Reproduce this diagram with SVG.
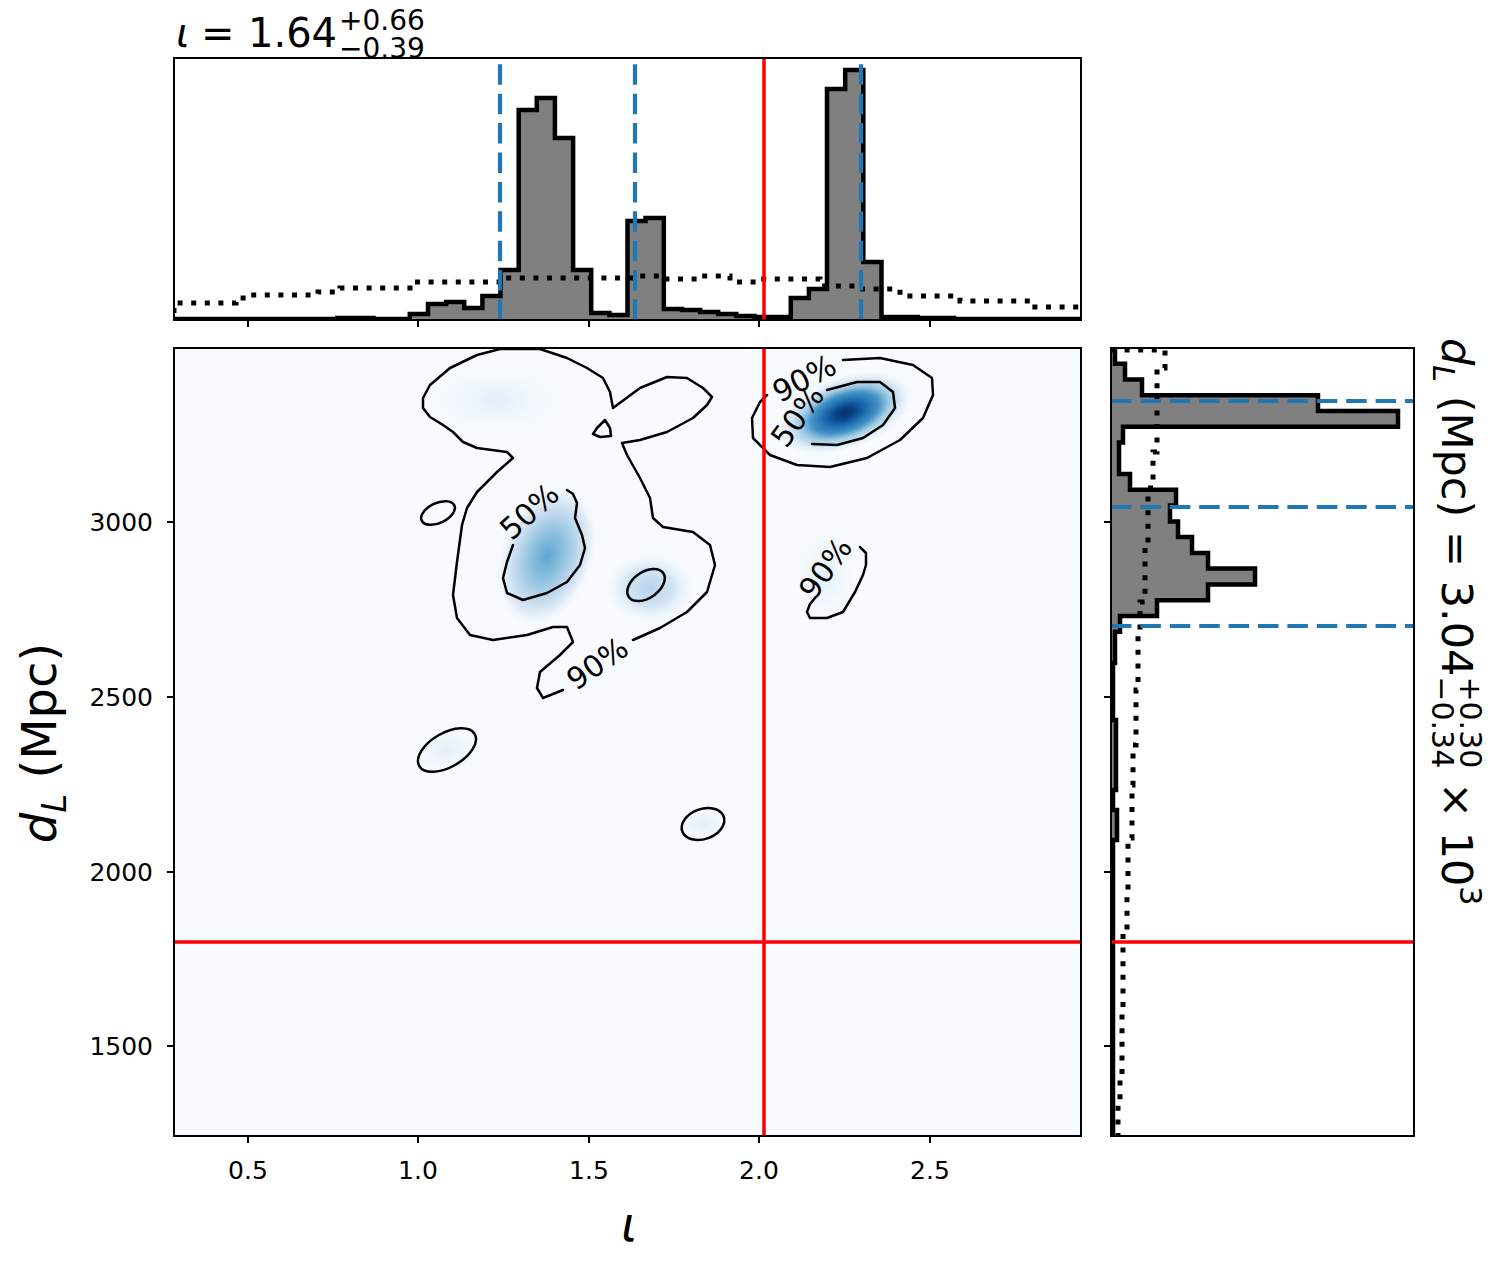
<svg xmlns="http://www.w3.org/2000/svg" width="1502" height="1263" viewBox="0 0 1502 1263">
<style>
text{font-family:'DejaVu Sans','Liberation Sans',sans-serif;fill:#000}
.frame{fill:none;stroke:#000;stroke-width:2}
.tick{stroke:#000;stroke-width:2}
.tl{font-size:25px}
.hist{fill:#808080;stroke:#000;stroke-width:4.5;stroke-linejoin:miter}
.prior{fill:none;stroke:#000;stroke-width:5;stroke-dasharray:5 8.6}
.q{fill:none;stroke:#1f77b4;stroke-width:4.2;stroke-dasharray:20.5 8.9}
.truth{fill:none;stroke:#ff0000;stroke-width:3.5}
.ct{fill:none;stroke:#000;stroke-width:2.5;stroke-linejoin:round;stroke-linecap:round}
.cl{font-size:30px;text-anchor:middle}
</style>
<defs>
<clipPath id="cTop"><rect x="174" y="58" width="907" height="262"/></clipPath>
<clipPath id="cMain"><rect x="174" y="348" width="907" height="788"/></clipPath>
<clipPath id="cRight"><rect x="1111" y="348" width="303" height="788"/></clipPath>
<radialGradient id="gA">
<stop offset="0" stop-color="#08306b"/>
<stop offset="0.15" stop-color="#08468a"/>
<stop offset="0.32" stop-color="#2171b5"/>
<stop offset="0.47" stop-color="#4292c6"/>
<stop offset="0.62" stop-color="#9ecae1"/>
<stop offset="0.8" stop-color="#deebf7"/>
<stop offset="1" stop-color="#f7fbff" stop-opacity="0"/>
</radialGradient>
<radialGradient id="gB">
<stop offset="0" stop-color="#5fa5d1"/>
<stop offset="0.3" stop-color="#89bfdd"/>
<stop offset="0.55" stop-color="#b7d4ea"/>
<stop offset="0.8" stop-color="#e1ecf7"/>
<stop offset="1" stop-color="#f7fbff" stop-opacity="0"/>
</radialGradient>
<radialGradient id="gC">
<stop offset="0" stop-color="#b5d2ea"/>
<stop offset="0.5" stop-color="#d4e5f3"/>
<stop offset="1" stop-color="#f7fbff" stop-opacity="0"/>
</radialGradient>
<radialGradient id="gD">
<stop offset="0" stop-color="#e3edf8"/>
<stop offset="1" stop-color="#f7fbff" stop-opacity="0"/>
</radialGradient>
</defs>

<rect width="1502" height="1263" fill="#fff"/>

<!-- title of top panel -->
<g id="title">
<text x="176" y="47" font-size="40" font-style="italic">ι</text>
<text x="201" y="47" font-size="40">=</text>
<text x="248" y="47" font-size="40">1.64</text>
<text x="339" y="30" font-size="28">+0.66</text>
<text x="339" y="58" font-size="28">−0.39</text>
</g>

<!-- top marginal histogram -->
<g id="top-panel">
<rect x="174" y="58" width="907" height="262" fill="#fff"/>
<g clip-path="url(#cTop)">
<path class="hist" d="M174,319 H337.3 V318 H373.5 V319 H409.8 V314 H428 V304 H446.1 V302 H464.2 V308 H482.4 V296 H500.5 V270 H518.7 V110 H536.8 V98 H554.9 V138 H573.1 V270 H591.2 V313 H609.4 V315 H627.5 V221 H645.6 V218 H663.8 V309 H681.9 V310 H700.1 V312 H718.2 V314 H736.3 V316 H754.5 V317 H790.8 V298 H808.9 V289 H827 V89 H845.2 V70 H863.3 V262 H881.5 V317 H917.7 V318 H954 V319 H1081 V324 H174 Z"/>
<path class="prior" d="M174,313 V303 H236 V298 H247 V295 H318 V292 H340 V288 H410 V282 H500 V278 H640 V276 H660 V279 H700 V276 H730 V282 H760 V279 H820 V286 H860 V289 H900 V296 H960 V301 H1030 V307 H1081"/>
<path class="q" d="M500,320 V58 M635,320 V58 M861,320 V58"/>
<path class="truth" d="M764,58 V320"/>
</g>
<rect class="frame" x="174" y="58" width="907" height="262"/>
<path class="tick" d="M248,320 v7 M418,320 v7 M589,320 v7 M759,320 v7 M930,320 v7"/>
</g>

<!-- main 2D panel -->
<g id="main-panel">
<rect x="174" y="348" width="907" height="788" fill="#f7fbff"/>
<g clip-path="url(#cMain)">
<ellipse cx="495" cy="400" rx="85" ry="42" fill="url(#gD)"/>
<ellipse cx="825" cy="575" rx="40" ry="55" fill="url(#gD)"/>
<ellipse cx="447" cy="750" rx="45" ry="30" fill="url(#gD)"/>
<ellipse cx="703" cy="824" rx="35" ry="25" fill="url(#gD)"/>
<ellipse cx="650" cy="588" rx="48" ry="38" fill="url(#gC)"/>
<ellipse cx="547" cy="556" rx="48" ry="75" fill="url(#gB)" transform="rotate(20 547 556)"/>
<ellipse cx="845" cy="413" rx="74" ry="38" fill="url(#gA)" transform="rotate(-20 845 413)"/>
</g>

<g id="contours">
<polyline class="ct" points="633,640 660,628 687,612 707,592 715,565 710,545 693,532 663,527 653,518 650,498 640,478 627,455 622,443 640,440 667,432 693,418 707,405 712,397 703,388 687,378 667,377 640,388 613,408 610,392 603,378 587,368 567,358 540,349 500,349 477,355 450,368 430,385 423,398 423,408 430,417 443,425 453,432 463,442 477,448 507,452 513,458 497,472 477,492 467,508 462,525 457,562 453,595 457,618 470,635 493,640 527,635 553,627 567,627 573,642 560,655 540,672 537,688 543,698 563,690"/>
<polyline class="ct" points="567,490 573,494 577,503 575,518 582,535 585,548 580,565 567,582 547,593 523,600 507,593 503,578 507,562 513,545"/>
<polygon class="ct" points="605,420 610,428 611,436 600,437 593,434 597,428"/>
<ellipse class="ct" cx="438" cy="513" rx="18" ry="10" transform="rotate(-25 438 513)"/>
<ellipse class="ct" cx="646" cy="585" rx="21" ry="13" transform="rotate(-35 646 585)"/>
<polyline class="ct" points="843,360 880,358 913,365 932,378 933,395 923,418 900,440 867,458 830,467 797,465 770,455 753,438 752,418 760,402 767,395"/>
<polyline class="ct" points="827,390 857,382 880,382 893,392 895,408 883,425 863,438 837,445 812,444"/>
<polyline class="ct" points="860,547 866,553 866,565 863,575 855,592 843,612 827,618 810,618 807,612 810,604 815,598"/>
<ellipse class="ct" cx="447" cy="750" rx="32" ry="17" transform="rotate(-30 447 750)"/>
<ellipse class="ct" cx="703" cy="824" rx="22" ry="15" transform="rotate(-20 703 824)"/>
</g>

<g id="contour-labels">
<text class="cl" transform="translate(597,663) rotate(-35)" dy="11">90%</text>
<text class="cl" transform="translate(529,511) rotate(-42)" dy="11">50%</text>
<text class="cl" transform="translate(804,378) rotate(-28)" dy="11">90%</text>
<text class="cl" transform="translate(797,416) rotate(-54)" dy="11">50%</text>
<text class="cl" transform="translate(825,568) rotate(-54)" dy="11">90%</text>
</g>

<g clip-path="url(#cMain)">
<path class="truth" d="M764,348 V1136 M174,942 H1081"/>
</g>
<rect class="frame" x="174" y="348" width="907" height="788"/>
<path class="tick" d="M248,1136 v7 M418,1136 v7 M589,1136 v7 M759,1136 v7 M930,1136 v7 M174,522 h-7 M174,697 h-7 M174,872 h-7 M174,1046 h-7"/>
<g id="x-ticklabels" class="tl" text-anchor="middle">
<text x="248" y="1179">0.5</text>
<text x="418" y="1179">1.0</text>
<text x="589" y="1179">1.5</text>
<text x="759" y="1179">2.0</text>
<text x="930" y="1179">2.5</text>
</g>
<g id="y-ticklabels" class="tl" text-anchor="end">
<text x="153" y="531">3000</text>
<text x="153" y="706">2500</text>
<text x="153" y="881">2000</text>
<text x="153" y="1055">1500</text>
</g>
<text id="x-label" x="629" y="1241" font-size="48" font-style="italic" text-anchor="middle">ι</text>
<g id="y-label" transform="translate(56,743) rotate(-90)">
<text font-size="48" text-anchor="middle"><tspan font-style="italic">d</tspan><tspan font-style="italic" font-size="34" dy="10">L</tspan><tspan dy="-10"> (Mpc)</tspan></text>
</g>
</g>

<!-- right marginal histogram -->
<g id="right-panel">
<rect x="1111" y="348" width="303" height="788" fill="#fff"/>
<g clip-path="url(#cRight)">
<path class="hist" d="M1106,348 H1115 V363.8 H1125 V379.5 H1142 V395.3 H1318 V411 H1398 V426.8 H1123 V442.6 H1119 V474.1 H1130 V489.8 H1176 V505.6 H1170 V521.4 H1178 V537.1 H1192 V552.9 H1208 V568.6 H1255 V584.4 H1208 V600.2 H1157 V615.9 H1120 V631.7 H1115 V663 H1113 V720 H1116 V790 H1113 V810 H1117 V840 H1113 V1140 H1106 Z"/>
<path class="prior" d="M1111,350 H1165 V368 H1157 V452 H1153 V488 H1148 V545 H1145 V602 H1140 V632 H1138 V690 H1136 V745 H1133 V785 H1132 V838 H1128 V890 H1127 V930 H1123 V1010 H1122 V1075 H1120 V1105 H1118 V1136"/>
<path class="q" d="M1111,401 H1414 M1111,507 H1414 M1111,626 H1414"/>
<path class="truth" d="M1111,942 H1414"/>
</g>
<rect class="frame" x="1111" y="348" width="303" height="788"/>
<path class="tick" d="M1111,522 h-7 M1111,697 h-7 M1111,872 h-7 M1111,1046 h-7"/>
<g id="right-title" transform="translate(1442,338) rotate(90)">
<text font-size="43"><tspan font-style="italic">d</tspan><tspan font-style="italic" font-size="30" dy="9">L</tspan><tspan dy="-9"> (Mpc) = 3.04</tspan><tspan font-size="30" dy="-18">+0.30</tspan><tspan font-size="30" dx="-92" dy="28">−0.34</tspan><tspan dy="-10"> × 10</tspan><tspan font-size="30" dy="-18">3</tspan></text>
</g>
</g>
</svg>
